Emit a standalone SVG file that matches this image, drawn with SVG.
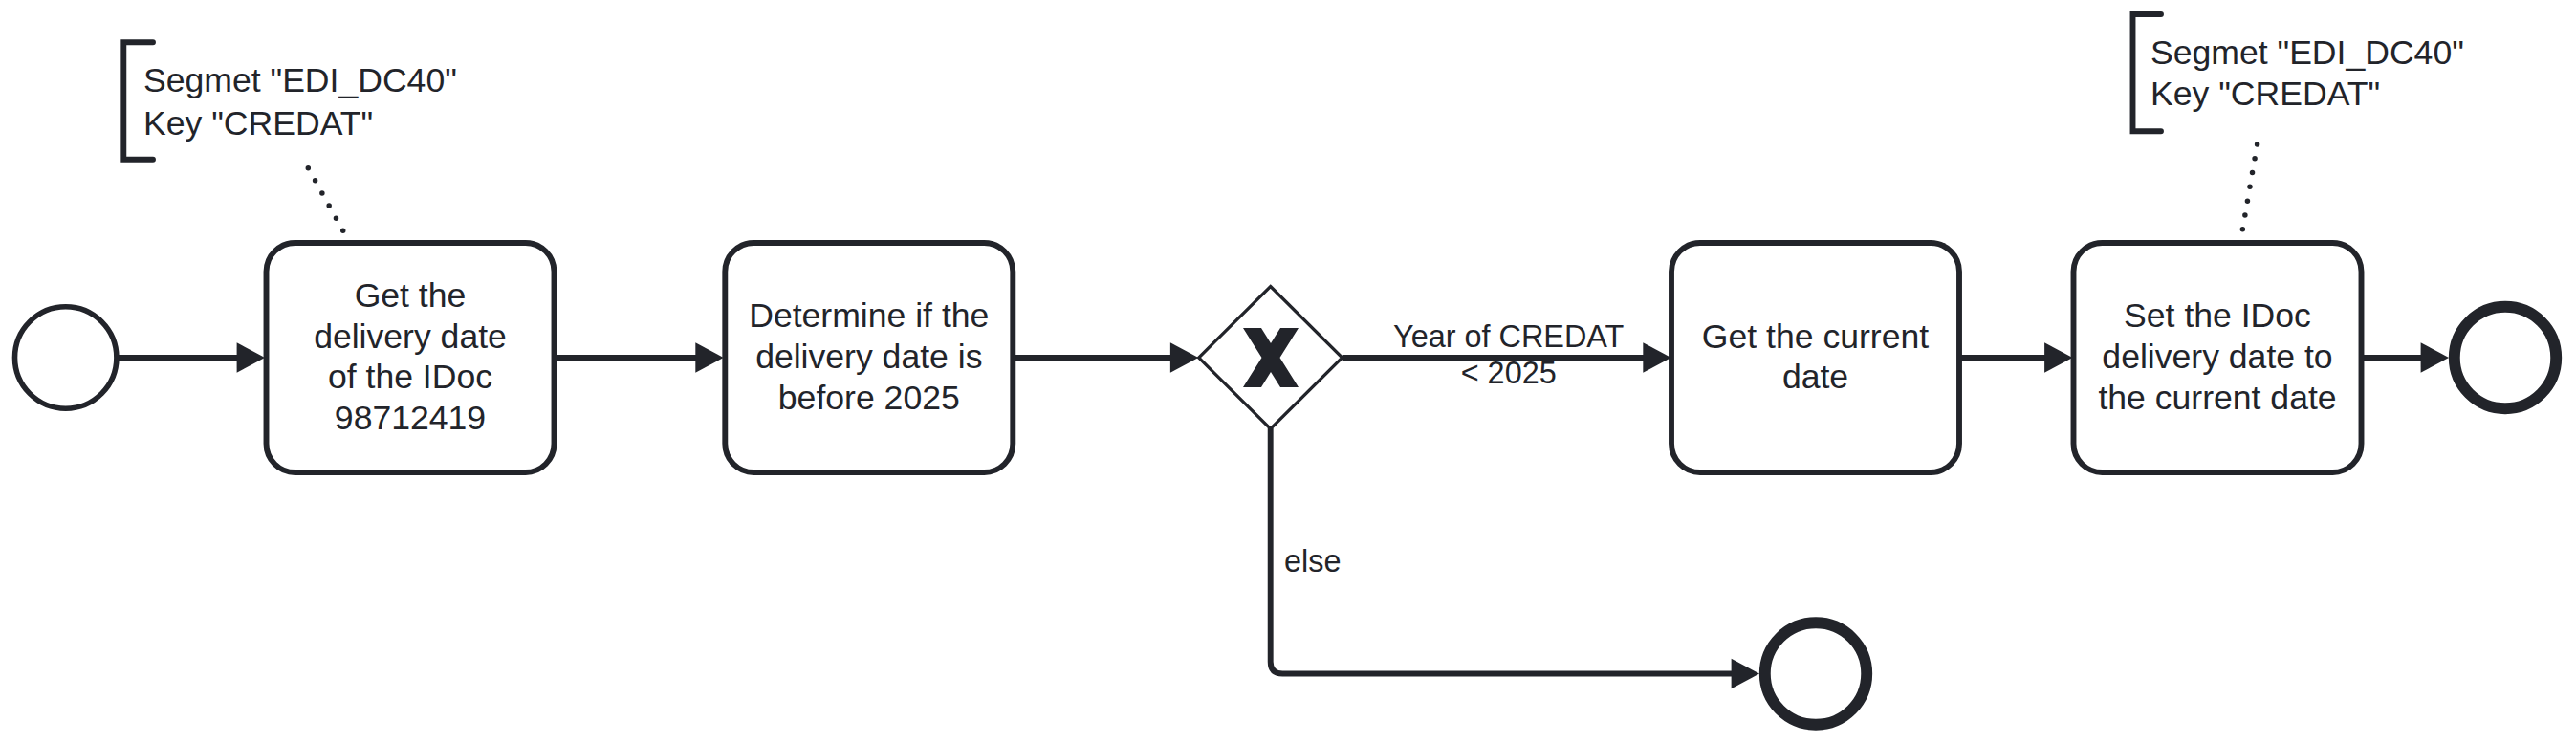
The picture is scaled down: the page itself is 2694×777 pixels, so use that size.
<svg xmlns="http://www.w3.org/2000/svg" width="2694" height="777" viewBox="0 0 2694 777">
<style>
.t{font-family:"Liberation Sans",Arial,sans-serif;font-size:35.6px;fill:#22242a;text-anchor:middle}
.a{font-family:"Liberation Sans",Arial,sans-serif;font-size:35.6px;fill:#22242a}
.l{font-family:"Liberation Sans",Arial,sans-serif;font-size:32.4px;fill:#22242a}
.task{fill:#fff;stroke:#22242a;stroke-width:5.9}
.flow{fill:none;stroke:#22242a;stroke-width:5.9;marker-end:url(#arr)}
.dot{fill:none;stroke:#22242a;stroke-width:5.5;stroke-dasharray:0 15;stroke-linecap:round}
.br{fill:none;stroke:#22242a;stroke-width:5.9;stroke-linecap:round}
</style>
<defs>
<marker id="arr" markerUnits="userSpaceOnUse" markerWidth="32" markerHeight="34" refX="10" refY="15.7" orient="auto" overflow="visible">
<path d="M0,0 L29.4,15.7 L0,31.4 Z" fill="#22242a"/>
</marker>
</defs>
<rect width="2694" height="777" fill="#fff"/>
<g id="connectors">
<path class="flow" d="M122,374 L257.6,374"/>
<path class="flow" d="M579.5,374 L737.3,374"/>
<path class="flow" d="M1059.3,374 L1233.9,374"/>
<path class="flow" d="M1403.7,374 L1728.3,374"/>
<path class="flow" d="M2049,374 L2148.1,374"/>
<path class="flow" d="M2469.5,374 L2541.6,374"/>
<path class="flow" d="M1328.7,448 L1328.7,692 Q1328.7,704.5 1341.2,704.5 L1820.6,704.5"/>
<path class="dot" d="M322.3,175.7 L359,241.7"/>
<path class="dot" d="M2360.6,151 L2345.3,240"/>
<text class="l" x="1577.7" y="362.7" text-anchor="middle">Year of CREDAT</text>
<text class="l" x="1577.7" y="400.7" text-anchor="middle">&lt; 2025</text>
<text class="l" x="1343" y="598">else</text>
</g>
<g id="start">
<circle cx="68.7" cy="374" r="53.2" fill="#fff" stroke="#22242a" stroke-width="5.6"/>
</g>
<g id="task1">
<rect class="task" x="278.5" y="254" width="301" height="240" rx="30"/>
<text class="t" x="429" y="320.9">Get the</text>
<text class="t" x="429" y="363.6">delivery date</text>
<text class="t" x="429" y="406.4">of the IDoc</text>
<text class="t" x="429" y="449.1">98712419</text>
</g>
<g id="task2">
<rect class="task" x="758.3" y="254" width="301" height="240" rx="30"/>
<text class="t" x="908.8" y="342.3">Determine if the</text>
<text class="t" x="908.8" y="385">delivery date is</text>
<text class="t" x="908.8" y="427.7">before 2025</text>
</g>
<g id="gateway">
<path d="M1328.7,299.5 L1403.7,374 L1328.7,448.5 L1253.7,374 Z" fill="#fff" stroke="#22242a" stroke-width="3.2" stroke-linejoin="miter"/>
<polygon points="1300,343 1319,343 1329,359 1339,343 1358,343 1338.5,374 1358,405 1339,405 1329,389 1319,405 1300,405 1319.5,374" fill="#22242a"/>
</g>
<g id="task3">
<rect class="task" x="1748" y="254" width="301" height="240" rx="30"/>
<text class="t" x="1898.5" y="363.6">Get the current</text>
<text class="t" x="1898.5" y="406.4">date</text>
</g>
<g id="task4">
<rect class="task" x="2168.5" y="254" width="301" height="240" rx="30"/>
<text class="t" x="2319" y="342.3">Set the IDoc</text>
<text class="t" x="2319" y="385">delivery date to</text>
<text class="t" x="2319" y="427.7">the current date</text>
</g>
<g id="end1">
<circle cx="2620" cy="374" r="53.2" fill="#fff" stroke="#22242a" stroke-width="11.9"/>
</g>
<g id="end2">
<circle cx="1899" cy="704.5" r="53.2" fill="#fff" stroke="#22242a" stroke-width="11.9"/>
</g>
<g id="annotation1">
<path class="br" d="M160,44.3 L129.3,44.3 L129.3,166.7 L160,166.7"/>
<text class="a" x="150" y="96">Segmet "EDI_DC40"</text>
<text class="a" x="150" y="140.7">Key "CREDAT"</text>
</g>
<g id="annotation2">
<path class="br" d="M2260,15 L2230.5,15 L2230.5,137.3 L2260,137.3"/>
<text class="a" x="2249" y="66.7">Segmet "EDI_DC40"</text>
<text class="a" x="2249" y="110">Key "CREDAT"</text>
</g>
</svg>
